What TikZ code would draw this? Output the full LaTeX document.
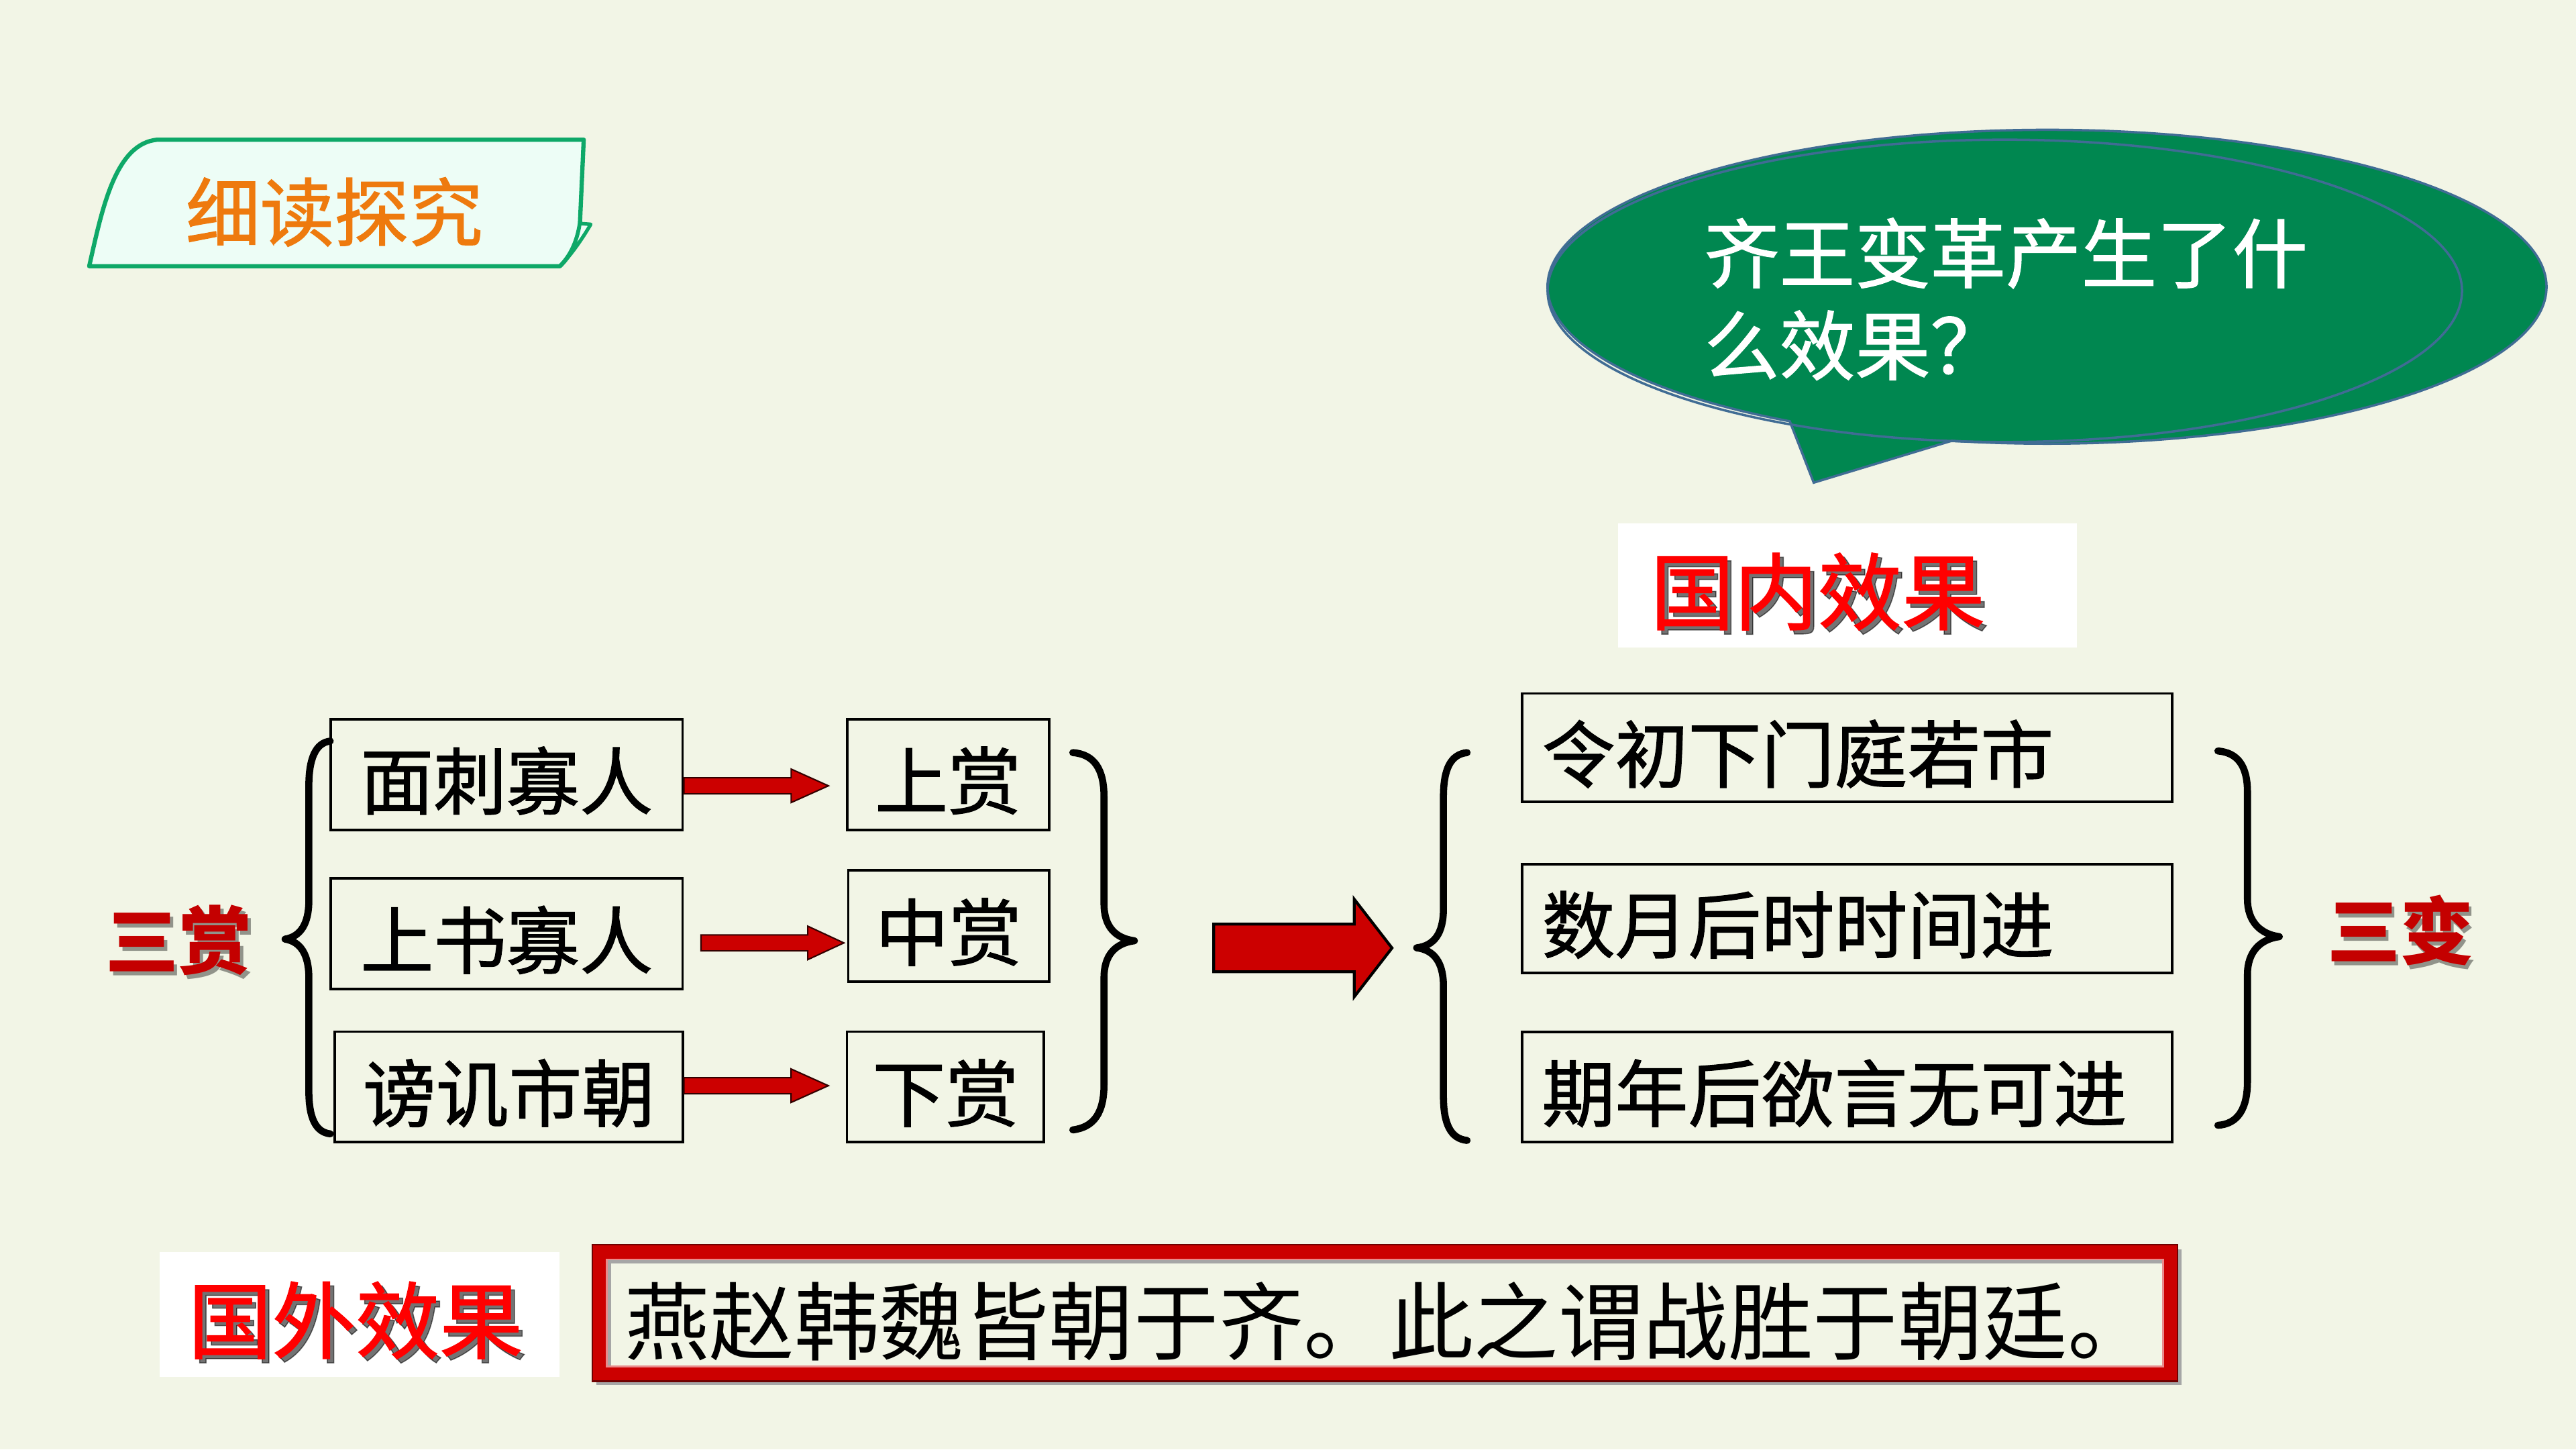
\documentclass[tikz,border=0pt]{standalone}
\usepackage{fontspec}
\newfontfamily\cjk{Noto Sans CJK SC}
\newfontfamily\cjkm[FakeBold=1.2]{Noto Sans CJK SC}
\usetikzlibrary{calc}
\definecolor{bg}{RGB}{242,245,230}
\definecolor{tabfill}{RGB}{237,253,246}
\definecolor{tabline}{RGB}{14,168,104}
\definecolor{orangetxt}{RGB}{238,122,14}
\definecolor{bubgreen}{RGB}{0,135,80}
\definecolor{bubline}{RGB}{64,108,148}
\definecolor{arrred}{RGB}{204,0,0}
\definecolor{headred}{RGB}{255,0,0}
\definecolor{darkred}{RGB}{196,0,0}
\definecolor{framered}{RGB}{204,0,0}
\def\U{0.6968pt}
\newcommand\blockarrow[6]{%
  \filldraw[#1] ($(#2)+(0,-#4)$) -- ($(#3)+(-#6,-#4)$) -- ($(#3)+(-#6,-#5)$) -- (#3)
    -- ($(#3)+(-#6,#5)$) -- ($(#3)+(-#6,#4)$) -- ($(#2)+(0,#4)$) -- cycle;}
\begin{document}
\begin{tikzpicture}[x=0.02449cm,y=-0.02449cm,
  lbox/.style={draw=black,line width=1.1pt,inner sep=0pt,
    font=\cjkm\fontsize{31pt}{36pt}\selectfont,text height=30pt,text depth=1pt},
  rbox/.style={lbox,align=left,inner xsep=12*\U,text width=371.4*\U,
    minimum width=395.4*\U},
  redhead/.style={inner sep=0pt,font=\cjkm\fontsize{35.5pt}{40pt}\selectfont,text=headred},
  headshadow/.style={inner sep=0pt,font=\cjkm\fontsize{35.5pt}{40pt}\selectfont,
    text=black,opacity=0.55},
  sanlabel/.style={inner sep=0pt,font=\cjk\bfseries\fontsize{31pt}{36pt}\selectfont,text=darkred},
  sanshadow/.style={inner sep=0pt,font=\cjk\bfseries\fontsize{31pt}{36pt}\selectfont,
    text=black,opacity=0.4},
  brace/.style={draw=black,line width=3pt,line cap=round,line join=round},
  smallarrow/.style={fill=arrred,draw=black!80!red,line width=0.6pt},
  bigarrow/.style={fill=arrred,draw=black,line width=1.2pt,line join=miter},
  bubble/.style={fill=bubgreen,draw=bubline,line width=1pt},
  bubtext/.style={inner sep=0pt,align=left,text=white,
    font=\cjkm\fontsize{32pt}{39pt}\selectfont},
  whitebox/.style={fill=white,inner sep=0pt},
  ytext/.style={inner sep=0pt,font=\cjk\fontsize{36pt}{40pt}\selectfont,text=black}
]
% background
\fill[bg] (0,0) rectangle (1568,882);
\useasboundingbox (0,0) rectangle (1568,882);

% title tab
\filldraw[fill=tabfill,draw=tabline,line width=1.8pt,line join=round]
  (54.3,162) .. controls (62,128) and (70,87) .. (96,85) -- (355.3,85) -- (353,136)
  .. controls (351,149) and (346,157) .. (340.8,162) -- cycle;
\filldraw[fill=tabfill,draw=tabline,line width=1.5pt,line join=round]
  (353,136) -- (359.6,136.5) .. controls (354,146) and (347,156) .. (340.8,162)
  .. controls (346,157) and (351,149) .. (353,136) -- cycle;
\node[inner sep=0pt,text=orangetxt,font=\cjkm\fontsize{31.5pt}{36pt}\selectfont]
  (tabt) at (203.5,129) {细读探究};

% speech bubble
\draw[bubble] ($(1246,174.5)+(121:304 and 95.5)$)
  arc[start angle=121,end angle=461,x radius=304,y radius=95.5]
  -- (1104,293.7) -- cycle;
\draw[draw=bubline,line width=1pt] (1220.3,177) ellipse [x radius=278.3,y radius=92];
\node[bubtext,anchor=west] (q) at (1037,182) {齐王变革产生了什\\么效果？};

% domestic effect heading
\node[whitebox,minimum width=279.3*\U,minimum height=75.5*\U] (gnbox) at (1124.35,356.25) {};
\node[headshadow] (gnxgs) at (1109,362.5) {国内效果};
\node[redhead] (gnxg) at (1106.5,360) {国内效果};

% left group
\node[sanshadow] (ssS) at (111,574.5) {三赏};
\node[sanlabel] (ss) at (109,572) {三赏};

\node[lbox,minimum width=214.2*\U,minimum height=67.4*\U] (A) at (308.4,471.3) {面刺寡人};
\node[lbox,minimum width=214.2*\U,minimum height=67.1*\U] (B) at (308.4,568.2) {上书寡人};
\node[lbox,minimum width=211.7*\U,minimum height=67.2*\U] (C) at (309.7,661.4) {谤讥市朝};
\node[lbox,minimum width=122.9*\U,minimum height=67.4*\U] (D) at (577,471.3) {上赏};
\node[lbox,minimum width=122.1*\U,minimum height=67.8*\U] (E) at (577.4,563.4) {中赏};
\node[lbox,minimum width=120*\U,minimum height=67.2*\U] (F) at (575.5,661.4) {下赏};

\coordinate (a1s) at ($(A.east)+(0,6.9)$);
\coordinate (a1t) at ($(D.west)+(-10.5,6.9)$);
\coordinate (a2s) at ($(B.east)+(10.4,5.6)$);
\coordinate (a2t) at ($(E.west)+(-1.9,10.4)$);
\coordinate (a3s) at ($(C.east)+(0,-0.7)$);
\coordinate (a3t) at ($(F.west)+(-10.5,-0.7)$);
\blockarrow{smallarrow}{a1s}{a1t}{4.9}{10.2}{22.7}
\blockarrow{smallarrow}{a2s}{a2t}{4.85}{10.2}{22}
\blockarrow{smallarrow}{a3s}{a3t}{4.9}{10.2}{22.7}

% braces of left group
\draw[brace] (201,451) .. controls (192,452) and (188,462) .. (188,478) -- (188,548)
  .. controls (188,562) and (183,570) .. (173.5,571.5)
  .. controls (183,573) and (188,581) .. (188,595) -- (188,664)
  .. controls (188,680) and (192,689) .. (201,690);
\draw[brace] (653,458) .. controls (666,459) and (672,468) .. (672,485) -- (672,550)
  .. controls (672,564) and (679,571) .. (690.5,572.5)
  .. controls (679,574) and (672,581) .. (672,595) -- (672,660)
  .. controls (672,677) and (666,686) .. (653,687.6);

% big arrow
\coordinate (bigs) at (738.8,576.9);
\coordinate (bigt) at (847.3,576.9);
\blockarrow{bigarrow}{bigs}{bigt}{14.5}{29.7}{23}

% right group
\draw[brace] (893,458) .. controls (883,459) and (878.6,468) .. (878.6,485) -- (878.6,553)
  .. controls (878.6,568) and (873,575.5) .. (862.3,576.8)
  .. controls (873,578) and (878.6,586) .. (878.6,600) -- (878.6,667)
  .. controls (878.6,684) and (883,693) .. (893,694);
\draw[brace] (1350,457) .. controls (1362,458) and (1368,466) .. (1368,482) -- (1368,547)
  .. controls (1368,561) and (1376,568.5) .. (1387.4,570)
  .. controls (1376,571.5) and (1368,579) .. (1368,593) -- (1368,658)
  .. controls (1368,675) and (1362,684) .. (1350,684.8);

\node[rbox,minimum height=66*\U] (G) at (1124.3,455) {令初下门庭若市};
\node[rbox,minimum height=66.2*\U] (H) at (1124.3,558.9) {数月后时时间进};
\node[rbox,minimum height=66.8*\U] (I) at (1124.3,661.4) {期年后欲言无可进};

\node[sanshadow] (sbS) at (1463,568.5) {三变};
\node[sanlabel] (sb) at (1461,566) {三变};

% foreign effect
\node[whitebox,minimum width=243.5*\U,minimum height=75.7*\U] (gwbox) at (218.75,799.85) {};
\node[headshadow] (gwxgs) at (219,806) {国外效果};
\node[redhead] (gwxg) at (216.5,803.5) {国外效果};

\draw[line width=6.06pt,black!35] (367.5,764.5) rectangle (1323.5,838.5);
\draw[line width=6.06pt,framered] (365,762) rectangle (1321,836);
\draw[line width=0.7pt,framered!55!black] (360.6,757.5) rectangle (1325.5,840.5);
\draw[line width=0.8pt,framered!45!white] (369.4,766.4) rectangle (1316.6,831.6);
\node[ytext,anchor=west] (yz) at (380,804) {燕赵韩魏皆朝于齐。此之谓战胜于朝廷。};
\end{tikzpicture}
\end{document}
